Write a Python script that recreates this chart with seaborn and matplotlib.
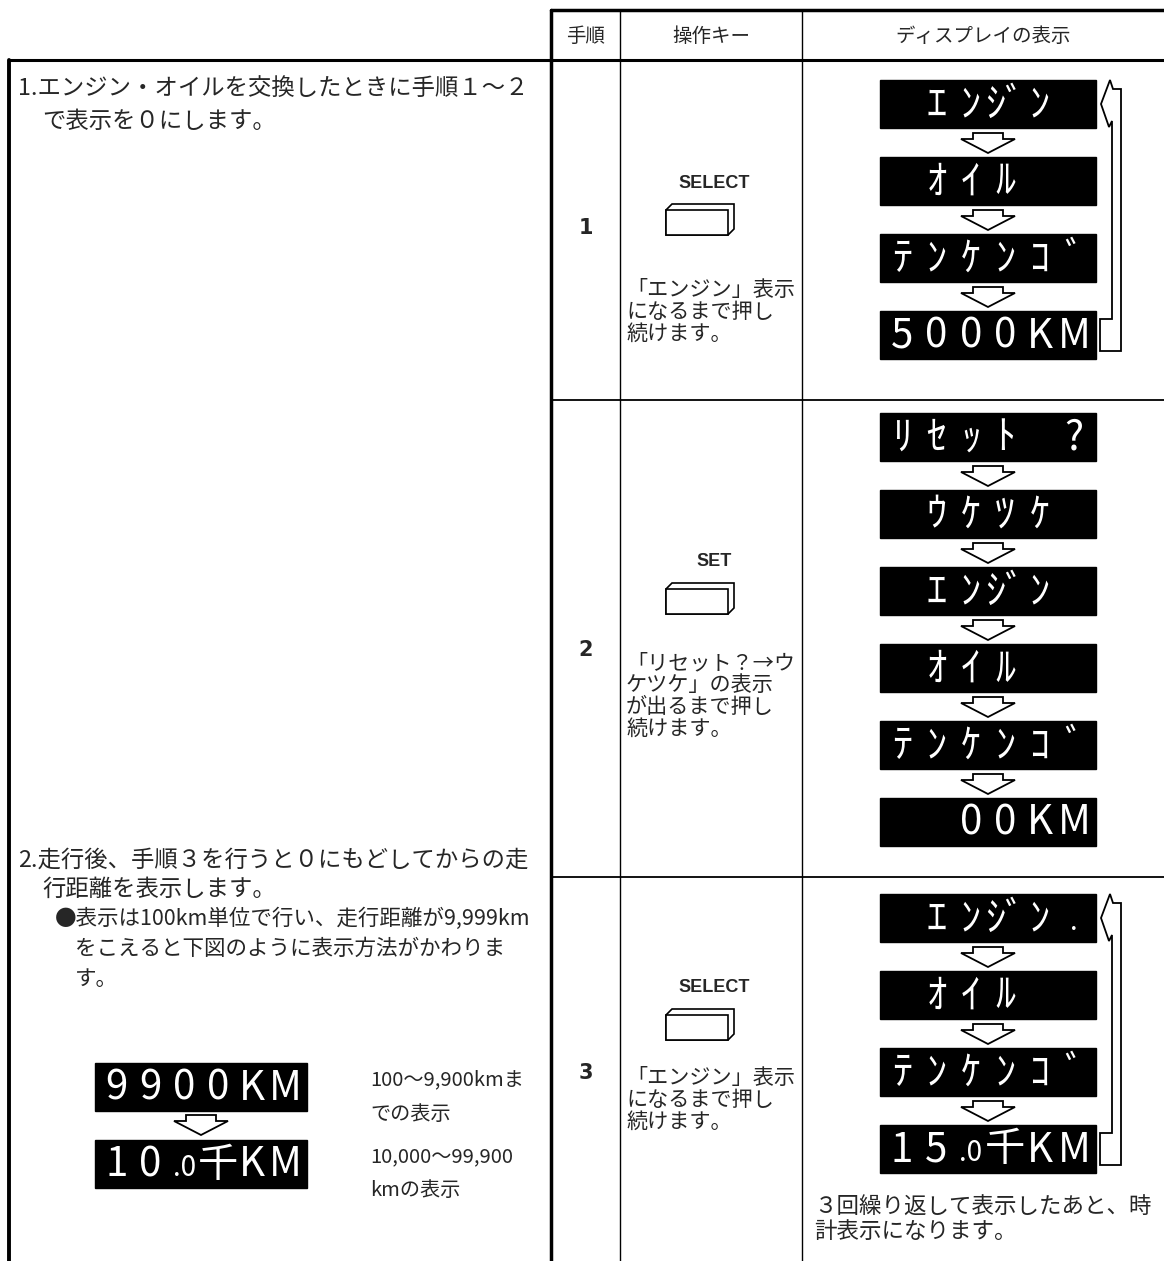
import matplotlib
matplotlib.use('Agg')
import matplotlib.pyplot as plt
from matplotlib.patches import Rectangle, Polygon
import seaborn as sns

sns.set_theme(style='white')
plt.rcParams['font.family'] = ['Noto Sans CJK JP', 'DejaVu Sans']

# ---- content -------------------------------------------------------------
header_labels = ['手順', '操作キー', 'ディスプレイの表示']
step_numbers = ['1', '2', '3']
step_keys = ['SELECT', 'SET', 'SELECT']
step_captions = [
    ['「エンジン」表示', 'になるまで押し', '続けます。'],
    ['「リセット？→ウ', 'ケツケ」の表示', 'が出るまで押し', '続けます。'],
    ['「エンジン」表示', 'になるまで押し', '続けます。'],
]
# LCD contents, one entry per character cell (6 cells per display)
lcd_engine = ['', 'ｴ', 'ﾝ', 'ｼﾞ', 'ﾝ', '']
lcd_oil = ['', 'ｵ', 'ｲ', 'ﾙ', '', '']
lcd_tenken = ['ﾃ', 'ﾝ', 'ｹ', 'ﾝ', 'ｺ', 'ﾞ']
step_displays = [
    [lcd_engine, lcd_oil, lcd_tenken, ['5', '0', '0', '0', 'K', 'M']],
    [['ﾘ', 'ｾ', 'ｯ', 'ﾄ', '', '?'], ['', 'ｳ', 'ｹ', 'ﾂ', 'ｹ', ''],
     lcd_engine, lcd_oil, lcd_tenken, ['', '', '0', '0', 'K', 'M']],
    [['', 'ｴ', 'ﾝ', 'ｼﾞ', 'ﾝ', '.'], lcd_oil, lcd_tenken,
     ['1', '5', '.0', '千', 'K', 'M']],
]
step_loop = [True, False, True]
step3_note = ['３回繰り返して表示したあと、時', '計表示になります。']

left_item1 = ['1.エンジン・オイルを交換したときに手順１～２', 'で表示を０にします。']
left_item2 = ['2.走行後、手順３を行うと０にもどしてからの走', '行距離を表示します。']
left_bullet = ['●表示は100km単位で行い、走行距離が9,999km',
               'をこえると下図のように表示方法がかわりま', 'す。']
example_displays = [['9', '9', '0', '0', 'K', 'M'], ['1', '0', '.0', '千', 'K', 'M']]
example_notes = [['100～9,900kmま', 'での表示'], ['10,000～99,900', 'kmの表示']]

# ---- layout (pixels) -----------------------------------------------------
W, H = 1164, 1261
col_x = [551, 620, 802, W]
table_top, header_bottom = 10, 60
row_y = [60, 400, 877, H]
disp_x0, disp_w, disp_h, disp_step = 880, 216, 48, 77
disp_start = [80, 413, 894]
key_label_y = [183, 562, 988]
number_y = [228, 650, 1073]
caption_y = [290, 663, 1078]

fig = plt.figure(figsize=(W / 100, H / 100), dpi=100)
ax = fig.add_axes([0, 0, 1, 1])
ax.set_xlim(0, W)
ax.set_ylim(H, 0)
ax.axis('off')
fig.patch.set_facecolor('white')


def lcd(x0, y0, cells, w=disp_w, h=disp_h):
    ax.add_patch(Rectangle((x0, y0), w, h, facecolor='black', edgecolor='black'))
    cw = (w - 10) / len(cells)
    for i, c in enumerate(cells):
        if not c:
            continue
        small = c.startswith('.')
        ax.text(x0 + 5 + cw * (i + 0.5), y0 + h / 2 + (4 if small else 1), c,
                color='white', fontsize=20 if small else 29,
                ha='center', va='center', fontweight='normal')


def down_arrow(cx, y0, h=20):
    pts = [(cx - 15, y0), (cx + 15, y0), (cx + 15, y0 + 6), (cx + 27, y0 + 6),
           (cx, y0 + h), (cx - 27, y0 + 6), (cx - 15, y0 + 6)]
    ax.add_patch(Polygon(pts, closed=True, facecolor='white', edgecolor='black', lw=1.3))


def loop_arrow(xr, yt, yb):
    xi, xo = xr + 12, xr + 21
    pts = [(xr, yb + 16), (xo, yb + 16), (xo, yt - 15), (xi + 1, yt - 15),
           (xi - 2, yt - 24), (xr + 1, yt), (xi - 3, yt + 23), (xi, yt + 17),
           (xi, yb - 16), (xr, yb - 16)]
    ax.add_patch(Polygon(pts, closed=True, facecolor='white', edgecolor='black', lw=1.3))


def key_icon(cx, ytop):
    w, h, d = 62, 25, 6
    x0 = cx - (w + d) / 2
    ax.add_patch(Polygon([(x0, ytop + d), (x0 + d, ytop), (x0 + w + d, ytop),
                          (x0 + w + d, ytop + h), (x0 + w, ytop + h + d),
                          (x0, ytop + h + d)], closed=True, facecolor='white',
                         edgecolor='black', lw=1.2))
    ax.add_patch(Rectangle((x0, ytop + d), w, h, facecolor='white',
                           edgecolor='black', lw=1.2))


# ---- table frame ---------------------------------------------------------
ax.plot([col_x[0], W], [table_top, table_top], color='black', lw=2.5)
ax.plot([col_x[0], col_x[0]], [table_top, H], color='black', lw=2.5)
ax.plot([9, W], [header_bottom, header_bottom], color='black', lw=2.2)
ax.plot([9, 9], [header_bottom, H], color='black', lw=2.8)
for x in col_x[1:3]:
    ax.plot([x, x], [table_top, H], color='black', lw=1.0)
for y in row_y[1:3]:
    ax.plot([col_x[0], W], [y, y], color='black', lw=1.3)

for i, lab in enumerate(header_labels):
    ax.text((col_x[i] + col_x[i + 1]) / 2, (table_top + header_bottom) / 2 + 1, lab,
            fontsize=14, ha='center', va='center')

# ---- rows ----------------------------------------------------------------
kx = (col_x[1] + col_x[2]) / 2
for r in range(3):
    ax.text((col_x[0] + col_x[1]) / 2, number_y[r], step_numbers[r], fontsize=15,
            fontweight='bold', ha='center', va='center', family=['DejaVu Sans'])
    ax.text(kx + 3, key_label_y[r], step_keys[r], fontsize=13, fontweight='bold',
            ha='center', va='center', family=['Liberation Sans', 'DejaVu Sans'])
    key_icon(kx - 11, key_label_y[r] + 21)
    for j, line in enumerate(step_captions[r]):
        ax.text(col_x[1] + 6, caption_y[r] + j * 22, line, fontsize=15.2,
                ha='left', va='center')
    disps = step_displays[r]
    for k, cells in enumerate(disps):
        y0 = disp_start[r] + k * disp_step
        lcd(disp_x0, y0, cells)
        if k < len(disps) - 1:
            down_arrow(disp_x0 + disp_w / 2, y0 + disp_h + 5)
    if step_loop[r]:
        loop_arrow(disp_x0 + disp_w + 4, disp_start[r] + disp_h / 2,
                   disp_start[r] + (len(disps) - 1) * disp_step + disp_h / 2)

for j, line in enumerate(step3_note):
    ax.text(col_x[2] + 12, 1207 + j * 25, line, fontsize=16.2, ha='left', va='center')

# ---- left column text ----------------------------------------------------
ax.text(18, 88, left_item1[0], fontsize=16.8, ha='left', va='center')
ax.text(42, 122, left_item1[1], fontsize=16.8, ha='left', va='center')
ax.text(18, 860, left_item2[0], fontsize=16.8, ha='left', va='center')
ax.text(42, 889, left_item2[1], fontsize=16.8, ha='left', va='center')
ax.text(55, 919, left_bullet[0], fontsize=15.5, ha='left', va='center')
ax.text(75, 949, left_bullet[1], fontsize=15.5, ha='left', va='center')
ax.text(75, 979, left_bullet[2], fontsize=15.5, ha='left', va='center')

ex_y = [1063, 1140]
for k, cells in enumerate(example_displays):
    lcd(95, ex_y[k], cells, w=212, h=48)
    for j, line in enumerate(example_notes[k]):
        ax.text(370, ex_y[k] + 17 + j * 34, line, fontsize=14.5, ha='left', va='center')
down_arrow(95 + 106, ex_y[0] + 52)

fig.savefig('out.png', dpi=100, facecolor='white')
